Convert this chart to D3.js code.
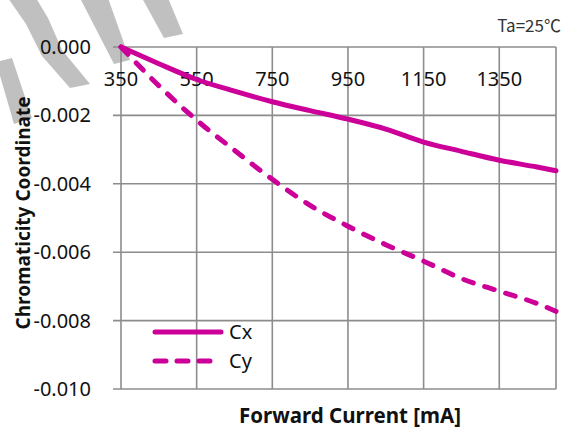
<!DOCTYPE html>
<html>
<head>
<meta charset="utf-8">
<script src="https://cdn.jsdelivr.net/npm/d3@7"></script>
<style>
  html, body { margin: 0; padding: 0; background: #fff; }
  svg { display: block; }
</style>
</head>
<body>
<svg id="chart" width="570" height="430"></svg>
<script>
// Forward current (mA) at which chromaticity shift was measured
const current = [350, 450, 550, 650, 750, 850, 950, 1050, 1150, 1250, 1350, 1450, 1500];
// Shift of chromaticity coordinates relative to 350 mA
const cx = [0, -0.00049, -0.00095, -0.00129, -0.0016, -0.00186, -0.00211, -0.0024, -0.00278, -0.00305, -0.00331, -0.00351, -0.00362];
const cy = [0, -0.00113, -0.00214, -0.00302, -0.00387, -0.00463, -0.00524, -0.00578, -0.00626, -0.00677, -0.00714, -0.0075, -0.00773];

const xTicks = [350, 550, 750, 950, 1150, 1350];
const yTicks = [0, -0.002, -0.004, -0.006, -0.008, -0.010];
const yTickLabels = ["0.000", "-0.002", "-0.004", "-0.006", "-0.008", "-0.010"];
const seriesNames = ["Cx", "Cy"];

const svg = d3.select("#chart");
const color = "#cc0099";
const gridColor = "#8c8c8c";
const font = "'Noto Sans', 'Open Sans', sans-serif";

const x = d3.scaleLinear().domain([350, 1500]).range([121, 556]);
const y = d3.scaleLinear().domain([0, -0.010]).range([47, 389]);

// Background watermark stripes
const stripes = [
  [[8, -2], [36, -2], [48, 18], [62, 50], [90, 84], [70, 88], [42, 56], [26, 24]],
  [[80, -2], [108, -2], [130, 60], [114, 64]],
  [[142, -2], [168, -2], [183, 34], [164, 38]],
  [[-4, 62], [12, 58], [32, 118], [14, 124]]
];
svg.append("g").selectAll("path").data(stripes).join("path")
  .attr("d", d => d3.line().curve(d3.curveLinearClosed)(d))
  .attr("fill", "#c0c0c0");

// Grid: vertical lines at each current tick plus right border
const grid = svg.append("g");
grid.selectAll(".vg").data(xTicks.concat([1500])).join("line")
  .attr("x1", d => x(d)).attr("x2", d => x(d))
  .attr("y1", y(0)).attr("y2", y(-0.010))
  .attr("stroke", gridColor).attr("stroke-width", 1.6);
// Horizontal lines with short outer ticks on the left
grid.selectAll(".hg").data(yTicks).join("line")
  .attr("x1", x(350) - 8).attr("x2", x(1500))
  .attr("y1", d => y(d)).attr("y2", d => y(d))
  .attr("stroke", gridColor).attr("stroke-width", 1.6);

// Y tick labels
svg.append("g").selectAll("text").data(yTicks).join("text")
  .attr("x", 91).attr("y", d => y(d))
  .attr("dy", "0.35em")
  .attr("text-anchor", "end")
  .attr("font-family", font).attr("font-size", 20).attr("fill", "#111")
  .text((d, i) => yTickLabels[i]);

// X tick labels sit just below the zero line
svg.append("g").selectAll("text").data(xTicks).join("text")
  .attr("x", d => x(d)).attr("y", y(0) + 39)
  .attr("text-anchor", "middle")
  .attr("font-family", font).attr("font-size", 20).attr("fill", "#111")
  .text(d => d);

// Curves
const line = d3.line()
  .x((d, i) => x(current[i]))
  .y(d => y(d))
  .curve(d3.curveMonotoneX);

svg.append("path").datum(cx)
  .attr("d", line)
  .attr("fill", "none").attr("stroke", color)
  .attr("stroke-width", 5).attr("stroke-linecap", "round").attr("stroke-linejoin", "round");

svg.append("path").datum(cy)
  .attr("d", line)
  .attr("fill", "none").attr("stroke", color)
  .attr("stroke-width", 5).attr("stroke-linecap", "round")
  .attr("stroke-dasharray", "10,12");

// Legend
const legend = svg.append("g");
const legendRows = [{ name: seriesNames[0], dash: null, ly: 332 }, { name: seriesNames[1], dash: "11,11", ly: 361 }];
legendRows.forEach(r => {
  legend.append("line")
    .attr("x1", 155).attr("x2", 221).attr("y1", r.ly).attr("y2", r.ly)
    .attr("stroke", color).attr("stroke-width", 5).attr("stroke-linecap", "round")
    .attr("stroke-dasharray", r.dash);
  legend.append("text")
    .attr("x", 229).attr("y", r.ly).attr("dy", "0.35em")
    .attr("font-family", font).attr("font-size", 20).attr("fill", "#111")
    .text(r.name);
});

// Condition note
svg.append("text")
  .attr("x", 561).attr("y", 32)
  .attr("text-anchor", "end")
  .attr("font-family", "'Noto Sans CJK KR', 'Noto Sans', sans-serif")
  .attr("font-size", 17).attr("fill", "#333")
  .text("Ta=25℃");

// Axis titles
svg.append("text")
  .attr("x", 350).attr("y", 423)
  .attr("text-anchor", "middle")
  .attr("font-family", font).attr("font-size", 20.5).attr("font-weight", "bold").attr("fill", "#111")
  .text("Forward Current [mA]");

svg.append("text")
  .attr("transform", "translate(30,213) rotate(-90)")
  .attr("text-anchor", "middle")
  .attr("font-family", font).attr("font-size", 19).attr("font-weight", "bold").attr("fill", "#111")
  .text("Chromaticity Coordinate");
</script>
</body>
</html>
